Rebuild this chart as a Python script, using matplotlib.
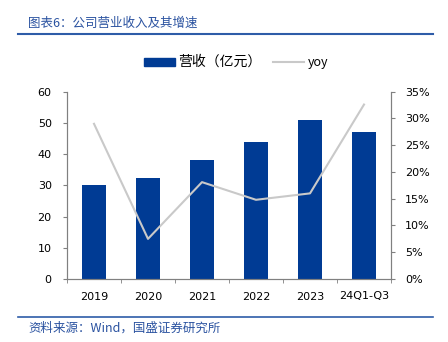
import matplotlib
matplotlib.use("Agg")
import matplotlib.pyplot as plt
from matplotlib.patches import Patch
from matplotlib.lines import Line2D
from matplotlib.ticker import FuncFormatter, MultipleLocator

plt.rcParams['font.family'] = ['DejaVu Sans', 'Noto Sans CJK SC']

categories = ['2019', '2020', '2021', '2022', '2023', '24Q1-Q3']
revenue = [30.1, 32.4, 38.2, 43.8, 51.0, 47.2]
yoy = [29.0, 7.5, 18.1, 14.8, 16.0, 32.6]
title = '图表6：公司营业收入及其增速'
source = '资料来源：Wind，国盛证券研究所'
bar_label = '营收（亿元）'
line_label = 'yoy'

W, H = 448, 342
fig = plt.figure(figsize=(W / 100, H / 100), dpi=100)

def fx(px):
    return px / W

def fy(py):
    return 1 - py / H

ax = fig.add_axes([fx(67), fy(279), fx(391) - fx(67), fy(91.7) - fy(279)])
ax2 = ax.twinx()

x = list(range(len(categories)))
bar_color = '#003B94'
line_color = '#C9C9C9'
spine_color = '#808080'
blue_text = '#2A52A0'

ax.bar(x, revenue, width=0.43, color=bar_color, zorder=2)
ax2.plot(x, yoy, color=line_color, lw=1.5, zorder=3)
ax.set_zorder(ax2.get_zorder() - 1)
ax.patch.set_visible(False)

ax.set_xlim(-0.5, len(categories) - 0.5)
ax.set_ylim(0, 60)
ax2.set_ylim(0, 35)
ax.yaxis.set_major_locator(MultipleLocator(10))
ax2.yaxis.set_major_locator(MultipleLocator(5))
ax2.yaxis.set_major_formatter(FuncFormatter(lambda v, p: f'{v:.0f}%'))

ax.set_xticks(x)
ax.set_xticklabels(categories)
ax.set_xticks([i + 0.5 for i in range(-1, len(categories))], minor=True)
ax.tick_params(axis='x', which='major', length=0, pad=9, labelsize=8)
ax.tick_params(axis='x', which='minor', length=3, direction='out', color=spine_color)
ax.tick_params(axis='y', length=3, direction='out', color=spine_color, labelsize=8, pad=8)
ax2.tick_params(axis='y', length=3, direction='out', color=spine_color, labelsize=8, pad=7)

for a in (ax, ax2):
    a.spines['top'].set_visible(False)
    for s in ('left', 'right', 'bottom'):
        a.spines[s].set_color(spine_color)
        a.spines[s].set_linewidth(0.8)

# legend
handles = [Patch(facecolor=bar_color, edgecolor=bar_color),
           Line2D([0], [0], color=line_color, lw=1.5)]
leg = fig.legend(handles, [bar_label, line_label], loc='center',
                 bbox_to_anchor=(fx(236), fy(62)), ncol=2, frameon=False,
                 prop={'family': ['Noto Sans CJK SC', 'DejaVu Sans'], 'size': 9},
                 handlelength=2.5, handleheight=0.6, columnspacing=0.9, handletextpad=0.25)
leg.get_texts()[0].set_fontsize(10)

# title and source
fig.text(fx(28), fy(23), title, color=blue_text, fontsize=9, style='italic',
         family=['Noto Sans CJK SC', 'DejaVu Sans'], va='center', ha='left')
fig.add_artist(Line2D([fx(18), fx(433)], [fy(34), fy(34)], color='#2E5CA8', lw=1.5))
fig.add_artist(Line2D([fx(18), fx(433)], [fy(317), fy(317)], color='#2E5CA8', lw=1.2))
fig.text(fx(28), fy(328), source, color=blue_text, fontsize=9, style='italic',
         family=['Noto Sans CJK SC', 'DejaVu Sans'], va='center', ha='left')

fig.savefig('out.png', dpi=100)
